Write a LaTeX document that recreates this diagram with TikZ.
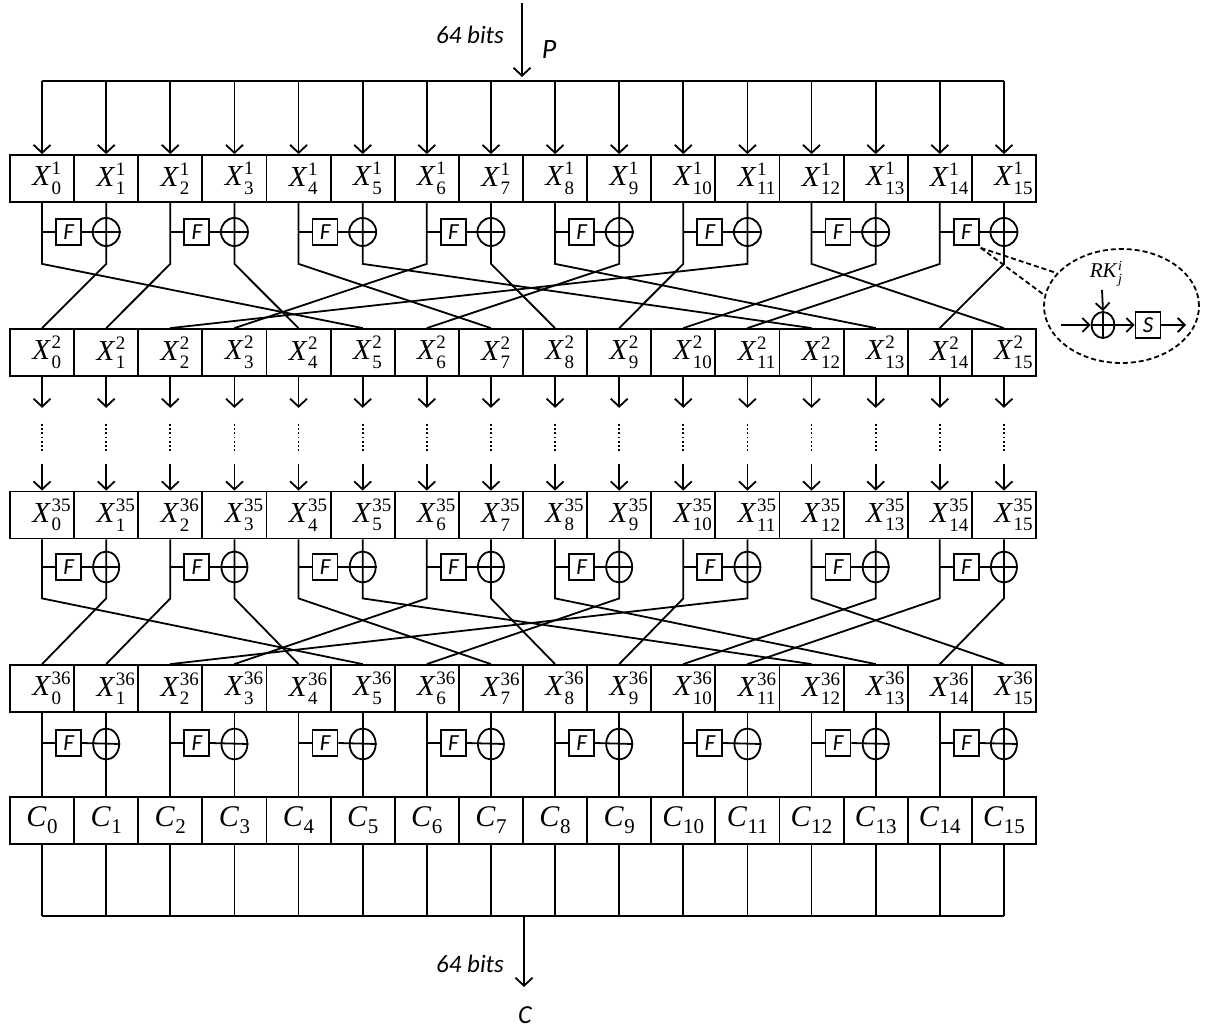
\documentclass[tikz,border=0pt]{standalone}
\usepackage{fontspec}
\setmainfont{Liberation Serif}
\newfontfamily\cfont{Carlito}
\usetikzlibrary{arrows.meta,shapes.geometric}
\newlength\SXa \newlength\SXb
% base, sup, sub, base size, script size, raise, lower
\newcommand\SXg[7]{{\fontsize{#4}{#4}\selectfont\textit{#1}}\kern0.5pt{\fontsize{#5}{#5}\selectfont\settowidth\SXa{#2}\settowidth\SXb{#3}\ifdim\SXb>\SXa\setlength\SXa{\SXb}\fi\rlap{\raisebox{#6}{#2}}\rlap{\raisebox{-#7}{#3}}\hspace{\SXa}}}
\newcommand\XX[2]{\SXg{X}{#1}{#2}{29}{19}{11pt}{8.5pt}}
\newcommand\CC[1]{{\fontsize{30}{30}\selectfont\textit{C}}\kern0.5pt\raisebox{-7pt}{\fontsize{21}{21}\selectfont #1}}
\begin{document}
\begin{tikzpicture}[x=1pt,y=-1pt,line width=1.8pt,
  cell/.style={draw,rectangle,minimum width=64.125pt,minimum height=47pt,inner sep=0pt},
  fbx/.style={draw,rectangle,minimum width=25pt,minimum height=26pt,inner sep=0pt,font=\cfont\itshape\fontsize{23}{23}\selectfont},
  xorc/.style={draw,ellipse,minimum width=27pt,minimum height=28pt,inner sep=0pt},
  xore/.style={draw,ellipse,minimum width=26pt,minimum height=31pt,inner sep=0pt},
  arr/.style={-{Straight Barb[length=8pt,width=17pt]}},
  sarr/.style={-{Straight Barb[length=7pt,width=14pt]}},
  lbl/.style={font=\cfont\itshape\fontsize{25}{25}\selectfont,inner sep=0pt},
  dots/.style={line width=1.8pt,dash pattern=on 1.8pt off 2.4pt},
  dsh/.style={dash pattern=on 5pt off 3pt}]
\fill[white] (0,0) rectangle (1213,1030);
\useasboundingbox (0,0) rectangle (1213,1030);
\def\cw{64.125}
% ---------- cells ----------
\foreach \i in {0,...,15}{
  \pgfmathsetmacro\cx{10+\cw*(\i+0.5)}
  \node[cell] (a\i) at (\cx,178.5) {\XX{1}{\i}};
  \node[cell] (b\i) at (\cx,352.5) {\XX{2}{\i}};
  \node[cell] (d\i) at (\cx,688.5) {\XX{36}{\i}};
  \node[cell] (e\i) at (\cx,820.5) {\CC{\i}};
}
\foreach \i/\s in {0/35,1/35,2/36,3/35,4/35,5/35,6/35,7/35,8/35,9/35,10/35,11/35,12/35,13/35,14/35,15/35}{
  \pgfmathsetmacro\cx{10+\cw*(\i+0.5)}
  \node[cell] (c\i) at (\cx,515) {\XX{\s}{\i}};
}
% ---------- input ----------
\coordinate (ptop) at (522,3);
\coordinate (pend) at (522,77);
\coordinate (bus) at (522,81);
\draw[arr] (ptop) -- (pend);
\node[lbl] (bits1) at (470,35) {64 bits};
\node[lbl,font=\cfont\itshape\fontsize{28}{28}\selectfont] (P) at (549,50) {P};
\draw (a0.north |- bus) -- (a15.north |- bus);
\foreach \i in {0,...,15}{ \draw[arr] (a\i.north |- bus) -- (a\i.north); }
% ---------- F functions ----------
\foreach \j in {0,...,7}{
  \pgfmathtruncatemacro\l{2*\j}
  \pgfmathtruncatemacro\r{2*\j+1}
  \pgfmathsetmacro\fx{10+\cw*(2*\j+0.5)+26.5}
  \pgfmathsetmacro\xx{10+\cw*(2*\j+1.5)}
  \node[fbx] (fa\j) at (\fx,232) {F};
  \node[xorc] (xa\j) at (\xx,232) {};
  \draw (fa\j.west) -- (a\l.south |- fa\j.west);
  \draw (fa\j.east) -- (xa\j.east);
  \node[fbx] (fc\j) at (\fx,567) {F};
  \node[xore] (xc\j) at (\xx,567) {};
  \draw (fc\j.west) -- (c\l.south |- fc\j.west);
  \draw (fc\j.east) -- (xc\j.east);
  \node[fbx] (fd\j) at (\fx,743) {F};
  \node[xore] (xd\j) at (\xx,744) {};
  \draw (fd\j.west) -- (d\l.south |- fd\j.west);
  \draw (fd\j.east) -- (xd\j.east);
}
% ---------- permutation ----------
\foreach \s/\t in {0/5,1/0,2/1,3/4,4/7,5/12,6/3,7/8,8/13,9/6,10/9,11/2,12/15,13/10,14/11,15/14}{
  \draw (a\s.south) -- ++(0,61) -- (b\t.north);
  \draw (c\s.south) -- ++(0,59) -- (d\t.north);
}
\foreach \i in {0,...,15}{
  \draw (d\i.south) -- (e\i.north);
  % middle rounds
  \path (b\i.south) ++(0,31) coordinate (m1\i) ++(0,16) coordinate (m2\i) ++(0,29) coordinate (m3\i) ++(0,11) coordinate (m4\i);
  \draw[arr] (b\i.south) -- (m1\i);
  \draw[dots] (m2\i) -- (m3\i);
  \draw[arr] (m4\i) -- (c\i.north);
}
% ---------- output ----------
\coordinate (obus) at (524,916);
\coordinate (oend) at (524,987);
\foreach \i in {0,...,15}{ \draw (e\i.south) -- (e\i.south |- obus); }
\draw (e0.south |- obus) -- (e15.south |- obus);
\draw[arr] (obus) -- (oend);
\node[lbl] (bits2) at (470,964) {64 bits};
\node[lbl,font=\cfont\itshape\fontsize{26}{26}\selectfont] (Cout) at (525,1015) {C};
% ---------- callout ----------
\node[draw,dsh,ellipse,minimum width=155pt,minimum height=114pt,inner sep=0pt] (callout) at (1121.5,306) {};
\draw[dsh] (fa7.south east) ++(1,2) coordinate (fcorner) -- (callout.153);
\draw[dsh] (fcorner) -- (callout.172);
\node[inner sep=0pt] (rk) at (1104,274) {\SXg{RK}{\textit{i}}{\textit{j}}{21}{14}{7pt}{6pt}};
\node[draw,ellipse,minimum width=23pt,minimum height=26pt,inner sep=0pt] (ix) at (1103,325) {};
\draw (ix.north) -- (ix.south);
\draw (ix.west) -- (ix.east);
\draw[sarr] (1102,290) coordinate (rkb) -- (ix.north);
\coordinate (inL) at (1061,325);
\draw[sarr] (inL) -- (ix.west);
\node[fbx] (sb) at (1148,325) {S};
\draw[sarr] (ix.east) -- (sb.west);
\coordinate (outR) at (1186,325);
\draw[sarr] (sb.east) -- (outR);
\end{tikzpicture}
\end{document}
